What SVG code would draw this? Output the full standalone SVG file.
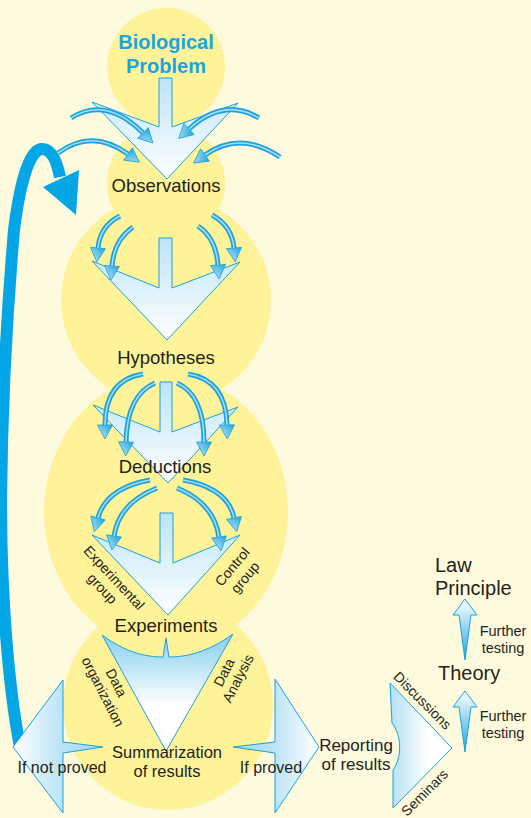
<svg xmlns="http://www.w3.org/2000/svg" width="531" height="818" viewBox="0 0 531 818">
<style>
text{font-family:"Liberation Sans",Arial,sans-serif;fill:#231F20}
.lbl{font-size:18.5px;text-anchor:middle}
.sm{font-size:14px;text-anchor:middle}
.ft{font-size:14.5px;text-anchor:middle}
.blob{fill:#FEF398}
.chev{fill:url(#chevG);stroke:#1DA1DC;stroke-width:1;stroke-linejoin:miter}
.sh{fill:none;stroke:#1CA2DD;stroke-width:5;marker-end:url(#head)}
.co{fill:none;stroke:#A3DCF3;stroke-width:1.6}
.ol{stroke:#1DA1DC;stroke-width:1}
</style>
<defs>
<linearGradient id="chevG" x1="0" y1="0" x2="0" y2="1"><stop offset="0" stop-color="#BCE5F8"/><stop offset="1" stop-color="#FFFFFF"/></linearGradient>
<linearGradient id="hg" x1="0" y1="0" x2="1" y2="1"><stop offset="0" stop-color="#1FA6DF"/><stop offset="1" stop-color="#C6EAF8"/></linearGradient>
<linearGradient id="sumG" x1="0" y1="0" x2="0" y2="1"><stop offset="0" stop-color="#84CEF0"/><stop offset="0.6" stop-color="#FFFFFF"/><stop offset="1" stop-color="#FFFFFF"/></linearGradient>
<linearGradient id="lG" x1="0" y1="0" x2="1" y2="0"><stop offset="0" stop-color="#FFFFFF"/><stop offset="0.55" stop-color="#B8E3F6"/><stop offset="1" stop-color="#A3DAF3"/></linearGradient>
<linearGradient id="rG" x1="0" y1="0" x2="1" y2="0"><stop offset="0" stop-color="#A3DAF3"/><stop offset="0.45" stop-color="#B8E3F6"/><stop offset="1" stop-color="#FFFFFF"/></linearGradient>
<linearGradient id="repG" x1="0" y1="0" x2="1" y2="0"><stop offset="0" stop-color="#B3E0F5"/><stop offset="0.6" stop-color="#FFFFFF"/></linearGradient>
<linearGradient id="upG" x1="0" y1="0" x2="0" y2="1"><stop offset="0" stop-color="#FFFFFF"/><stop offset="1" stop-color="#1EA5DF"/></linearGradient>
<marker id="head" viewBox="-1 -9 17 18" refX="0" refY="0" markerWidth="17" markerHeight="18" markerUnits="userSpaceOnUse" orient="auto">
<path d="M0,-7.5 L14,0 L0,7.5 Z" fill="url(#hg)" stroke="#1A9FD9" stroke-width="0.8" stroke-linejoin="round"/>
</marker>
<path id="a1" d="M71,118 Q106,96 143,133"/>
<path id="a2" d="M259,118 Q224,97 189,129"/>
<path id="a3" d="M58,153 Q92,128 128,154"/>
<path id="a4" d="M280,157 Q240,130 205,155"/>
<path id="b1" d="M120,216 Q100,226 98,248"/>
<path id="b2" d="M133,227 Q114,240 112,266"/>
<path id="b3" d="M198,226 Q216,238 218,265"/>
<path id="b4" d="M212,215 Q232,226 234,248"/>
<path id="c1" d="M143,374 Q105,380 105,425"/>
<path id="c2" d="M155,383 Q127,395 126,442"/>
<path id="c3" d="M177,383 Q204,395 204,442"/>
<path id="c4" d="M188,374 Q226,380 227,425"/>
<path id="d1" d="M150,480 Q106,488 98,518"/>
<path id="d2" d="M157,488 Q119,503 114,536"/>
<path id="d3" d="M177,488 Q214,503 219,537"/>
<path id="d4" d="M183,480 Q228,488 234,518"/>
</defs>
<rect width="531" height="818" fill="#FEFADD"/>
<g id="backdrop">
<circle class="blob" cx="166" cy="67" r="59"/>
<circle class="blob" cx="166" cy="183" r="59"/>
<circle class="blob" cx="166" cy="300" r="105"/>
<ellipse class="blob" cx="166" cy="512" rx="122" ry="138"/>
<circle class="blob" cx="168" cy="705" r="105"/>
</g>
<g id="connectors">
<path id="loop" d="M20,747 C9,690 1,600 1,500 C2,400 8,300 14,230 C21,175 31,149 42,149 C52,149 57,162 60,177" fill="none" stroke="#05A6E6" stroke-width="12"/>
<polygon points="43,187 79,170 76,215" fill="#05A6E6"/>
<polygon class="chev" points="159,78 172,78 172,127 238,103 167,179 92,102 159,127"/>
<polygon class="chev" points="159,238 172,238 172,288 240,262 167,340 92,261 159,288"/>
<polygon class="chev" points="160,382 172,382 172,432 238,407 168,483 93,405 160,432"/>
<polygon class="chev" points="160,513 173,513 173,563 240,535 168,615 92,535 160,563"/>
<use href="#a1" class="sh"/><use href="#a1" class="co"/>
<use href="#a2" class="sh"/><use href="#a2" class="co"/>
<use href="#a3" class="sh"/><use href="#a3" class="co"/>
<use href="#a4" class="sh"/><use href="#a4" class="co"/>
<use href="#b1" class="sh"/><use href="#b1" class="co"/>
<use href="#b2" class="sh"/><use href="#b2" class="co"/>
<use href="#b3" class="sh"/><use href="#b3" class="co"/>
<use href="#b4" class="sh"/><use href="#b4" class="co"/>
<use href="#c1" class="sh"/><use href="#c1" class="co"/>
<use href="#c2" class="sh"/><use href="#c2" class="co"/>
<use href="#c3" class="sh"/><use href="#c3" class="co"/>
<use href="#c4" class="sh"/><use href="#c4" class="co"/>
<use href="#d1" class="sh"/><use href="#d1" class="co"/>
<use href="#d2" class="sh"/><use href="#d2" class="co"/>
<use href="#d3" class="sh"/><use href="#d3" class="co"/>
<use href="#d4" class="sh"/><use href="#d4" class="co"/>
<path class="ol" fill="url(#sumG)" d="M102,635 C125,652 145,657 163,657 L166,638 L169,657 C187,657 208,652 233,634 L166,751 Z"/>
<path class="ol" fill="url(#lG)" d="M13,747 L63,680 L63,742 L103,747 L63,753 L63,813 Z"/>
<path class="ol" fill="url(#rG)" d="M319,747 L275,679 L275,742 L233,747 L275,753 L275,813 Z"/>
<path class="ol" fill="url(#repG)" d="M390,683 L452,748 L393,808 L393,770 C402,758 402,735 392,723 Z"/>
<path class="ol" fill="url(#upG)" d="M465,691 L477,707 L471,707 L465,752 L459,707 L453,707 Z"/>
<path class="ol" fill="url(#upG)" d="M465,599 L477,615 L471,615 L465,660 L459,615 L453,615 Z"/>
<g id="connector-labels">
<text class="sm" transform="translate(110.5,581) rotate(47)"><tspan x="0" y="0">Experimental</tspan><tspan x="0" y="16">group</tspan></text>
<text class="sm" transform="translate(236,570) rotate(-50)"><tspan x="0" y="0">Control</tspan><tspan x="0" y="16.5">group</tspan></text>
<text class="sm" transform="translate(112,685) rotate(63)"><tspan x="0" y="0">Data</tspan><tspan x="2" y="16">organization</tspan></text>
<text class="sm" transform="translate(228.4,674.7) rotate(-63)"><tspan x="0" y="0">Data</tspan><tspan x="1" y="15">Analysis</tspan></text>
<text class="sm" transform="translate(419,704) rotate(45)">Discussions</text>
<text class="sm" transform="translate(428,796) rotate(-45)">Seminars</text>
<text style="font-size:16px;text-anchor:middle" x="62" y="773">If not proved</text>
<text style="font-size:16px;text-anchor:middle" x="271" y="773">If proved</text>
<text class="ft" x="503" y="636">Further</text>
<text class="ft" x="503" y="653">testing</text>
<text class="ft" x="503" y="721">Further</text>
<text class="ft" x="503" y="738">testing</text>
</g>
</g>
<g id="node-biological-problem">
<text style="font-size:20px;font-weight:bold;text-anchor:middle;fill:#1BA5E0" x="166" y="49">Biological</text>
<text style="font-size:20px;font-weight:bold;text-anchor:middle;fill:#1BA5E0" x="166" y="73">Problem</text>
</g>
<g id="node-observations"><text class="lbl" x="166" y="192">Observations</text></g>
<g id="node-hypotheses"><text class="lbl" x="166" y="364">Hypotheses</text></g>
<g id="node-deductions"><text class="lbl" x="165" y="473">Deductions</text></g>
<g id="node-experiments"><text class="lbl" x="166" y="632">Experiments</text></g>
<g id="node-summarization">
<text style="font-size:16.5px;text-anchor:middle" x="167" y="758">Summarization</text>
<text style="font-size:16.5px;text-anchor:middle" x="167" y="777">of results</text>
</g>
<g id="node-reporting">
<text style="font-size:17px;text-anchor:middle" x="356" y="751">Reporting</text>
<text style="font-size:17px;text-anchor:middle" x="356" y="770">of results</text>
</g>
<g id="node-theory"><text style="font-size:20px" x="438" y="680">Theory</text></g>
<g id="node-law-principle">
<text style="font-size:20px" x="435" y="572">Law</text>
<text style="font-size:20px" x="435" y="595">Principle</text>
</g>
</svg>
